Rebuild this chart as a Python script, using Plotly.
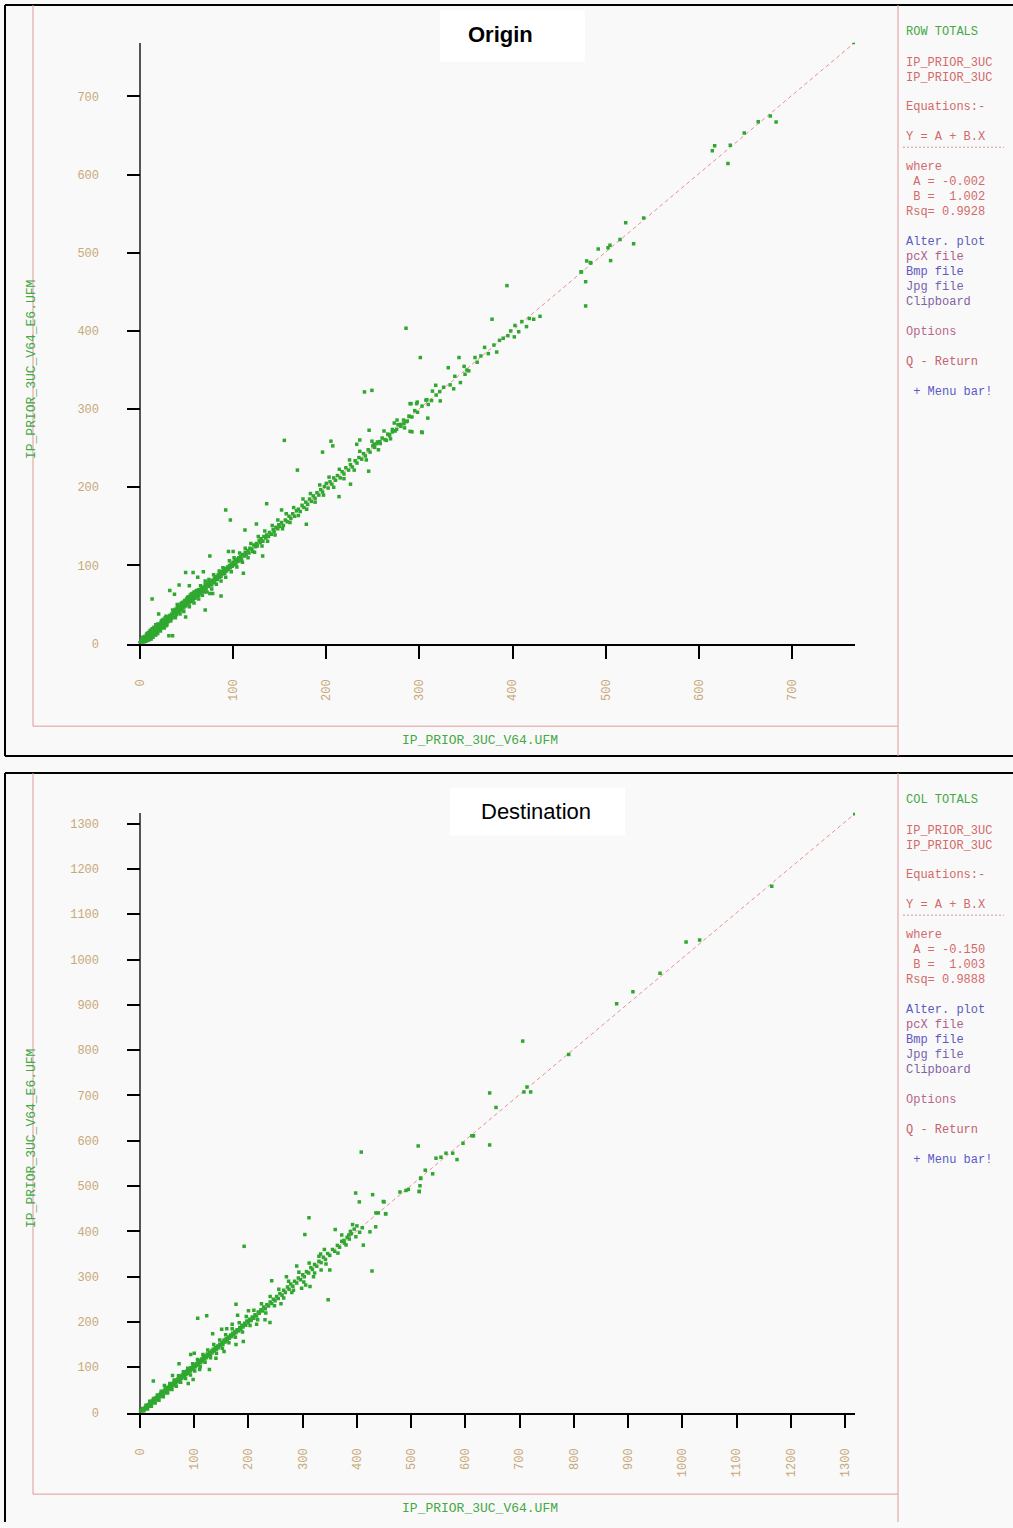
import plotly.graph_objects as go

W, H = 1013, 1528

# ---------------- DATA ----------------
origin_ticks = [0, 100, 200, 300, 400, 500, 600, 700]
dest_ticks = [0, 100, 200, 300, 400, 500, 600, 700, 800, 900, 1000, 1100, 1200, 1300]

origin_fit = {"A": -0.002, "B": 1.002, "xmax": 768}
dest_fit = {"A": -0.150, "B": 1.003, "xmax": 1318}

origin_low = [(0,1),(1,0),(1,3),(2,2),(2,6),(3,1),(3,4),(4,7),(4,2),(5,5),(5,9),(6,3),(6,8),(7,6),(7,12),
              (8,4),(8,9),(9,7),(9,14),(10,10),(10,5),(11,12),(11,17),(12,9),(12,14),(13,11),(13,19),(14,13),
              (14,8),(15,16),(15,21),(16,14),(16,11),(17,18),(17,24),(18,16),(18,20),(19,22),(19,13),(20,19),
              (21,23),(21,17),(22,26),(22,21),(23,20),(23,29),(24,25),(24,22),(25,27),(25,31),(26,24),(26,28),
              (27,33),(27,26),(28,29),(28,23),(29,31),(30,34),(30,28)]
origin_mid = [(31,33),(32,36),(32,30),(33,35),(34,38),(34,32),(35,37),(36,40),(36,34),(37,42),(38,39),(38,44),
              (39,37),(40,43),(40,46),(41,40),(42,45),(42,48),(43,42),(44,47),(44,51),(45,44),(46,49),(46,53),
              (47,46),(48,51),(48,55),(49,48),(50,53),(50,57),(51,50),(52,55),(52,60),(53,52),(54,57),(54,62),
              (55,54),(56,59),(56,64),(57,56),(58,61),(58,66),(59,58),(60,63),(60,67),(61,60),(62,65),(63,62),
              (63,69),(64,66),(65,64),(66,70),(66,67),(67,72),(68,69),(69,66),(70,73),(70,76),(71,70),(72,75),
              (73,78),(74,73),(75,77),(76,80),(77,75),(78,81),(79,78),(80,84),(80,80),(81,83),(82,86),(83,82),
              (84,88),(85,85),(86,90),(87,86),(88,92),(89,89),(90,94),(91,90),(92,96),(93,93),(94,98),(95,95),
              (96,100),(97,97),(98,102),(99,99),(100,104),(101,101),(102,106),(103,102),(104,108),(105,105),
              (106,110),(107,106),(108,111),(109,108),(110,114),(112,112),(113,117),(114,114),(116,119),
              (117,116),(118,122),(120,121),(121,118),(122,126),(124,124),(125,128),(126,125),(128,132),
              (129,129),(130,134),(132,131),(133,137),(135,135),(136,139),(138,137),(139,142),(141,140),
              (143,146),(144,143),(146,149),(148,147),(149,152),(150,150)]
origin_band = [(3,8),(5,2),(8,13),(10,15),(12,6),(14,19),(17,11),(19,25),(22,16),(24,30),(26,20),(28,35),
               (29,24),(33,29),(35,43),(38,33),(40,50),(43,38),(45,52),(47,41),(51,59),(53,47),(55,63),(58,52),
               (61,68),(63,57),(65,74),(67,62),(70,80),(72,66),(74,82),(77,70),(79,88),(82,76),(85,93),(87,80),
               (89,97),(92,85),(96,106),(98,92),(101,110),(104,98),(107,116),(110,104),(113,122),(116,110),
               (119,128),(123,117),(127,137),(131,125),(134,144),(137,131),(142,151),(145,139),(148,158),
               (153,147),(157,166),(161,155),(165,174),(170,164),(175,185),(179,172),(183,192),(188,181),
               (193,203),(197,190),(203,213),(208,200),(214,223),(219,211),(225,235),(230,222),(236,246),
               (243,235),(249,259),(256,248),(262,272),(269,262),(276,286),(284,276)]
origin_upper = [(152,155),(154,151),(156,158),(158,156),(160,163),(162,160),(164,166),(166,163),(168,170),
                (170,172),(172,169),(174,177),(176,174),(178,181),(180,178),(182,185),(184,182),(186,189),
                (188,186),(190,193),(192,190),(194,197),(196,194),(198,201),(200,205),(202,199),(204,207),
                (206,204),(208,212),(210,209),(212,215),(215,212),(217,220),(219,217),(221,225),(224,222),
                (226,229),(228,226),(231,234),(233,231),(235,238),(238,236),(240,243),(242,240),(245,248),
                (247,245),(250,253),(252,251),(255,258),(258,256),(260,263),(263,261),(266,268),(268,266),
                (271,274),(274,272),(277,280),(280,278),(283,286),(286,284),(289,291),(292,290),(295,298),
                (298,296),(318,318),(326,328),(333,331),(338,342),(362,360),(366,368),(380,382),(386,388),
                (395,394),(398,400),(410,412),(418,416)]
origin_scatter = [(31,10),(35,10),(20,38),(32,68),(37,63),(42,75),(53,74),(49,91),(57,91),(13,57),(49,34),
                  (75,64),(78,64),(87,61),(70,43),(75,112),(92,171),(97,158),(136,179),(111,90),(131.7,112),
                  (112.7,145.5),(125,153),(152,171),(100,118),(80,80),(68,92),(62,85),(95,118),
                  (155,260),(169,222),(205,259),(207,253),(196,245),(246,273),(290,307),(297,307),(308,312),
                  (292,271),(303,270),(178.6,152.7),(213.7,188),(226,204),(245.5,220.6),(241,322),(249,324),
                  (285.6,403.5),(301,366),(236,260.5),(232.7,255),(289,290.6),(287,284.7),(283.4,281.3),
                  (273,282.2),(280,280.5),(275.6,274.2),(271,270.8),(267.7,267.4),(264.5,260),(257.4,258.4),
                  (254,255.8),(251.2,255),(290,271.6),(302.4,270.8),(291,307),(297.7,309),(302.8,303.9),
                  (309.5,306),(309,288.5),(322.4,310.5),(313,311),(307,311.5),(317.5,330.5),(314,323),
                  (321.8,322.4),(344,334),(336.8,326),(331,353),(348,354.7),(351,350),(349,344.6),(353,349),
                  (359.7,366),(342.5,366),(374,371),(383,373),(390,390.7),(370,379),(378,415),(394,458),
                  (401.9,392.4),(402.6,407),(406.6,399),(415,405.6),(422.7,415),(429.5,418.7)]
origin_high = [(474,475.6),(478.5,463),(478.5,432),(479.6,489.6),(484,487),(492,505),(502.5,506.6),
               (504.6,509.5),(505.3,490),(515.4,517),(521.5,538.4),(530,511.7),(540.8,544.4),(614.5,630.4),
               (617,636.8),(631.3,614.3),(633.8,637.7),(648.8,653.3),(663.8,667.8),(676.7,675),(683,667.3),
               (766.6,769),(473.5,475.6),(483.5,487.5)]

dest_low = [(1,1),(2,3),(3,2),(4,5),(5,4),(6,7),(7,5),(8,9),(9,8),(10,12),(11,10),(12,13),(13,11),(14,16),
            (15,14),(16,18),(17,15),(18,20),(19,17),(20,22),(21,19),(22,25),(23,22),(24,27),(25,24),(26,29),
            (27,25),(28,31),(29,28),(30,33),(32,30),(33,36),(34,33),(36,39),(37,35),(38,42),(40,38),(41,44),
            (42,41),(44,47),(45,43),(46,50),(48,46),(49,52),(50,49),(52,55),(53,51),(54,58),(56,54),(57,61),
            (58,57),(60,63),(61,60),(62,66),(64,62),(65,68),(66,65),(68,72),(69,68),(70,74),(72,71),(73,77),
            (74,73),(76,80),(77,76),(78,83),(80,79),(81,85),(82,82),(84,88),(85,84),(86,91),(88,87),(89,93),
            (90,90),(92,96),(93,92),(94,99),(96,95),(98,102),(99,98),(100,105),(102,101),(104,108),(105,104),
            (107,111),(108,107),(110,115),(112,110),(114,118),(115,114),(117,122),(119,118),(121,125)]
dest_band = [(4,9),(7,2),(11,16),(14,8),(18,25),(21,14),(25,31),(28,21),(32,39),(35,27),(39,47),(43,35),
             (47,56),(51,43),(55,64),(59,51),(63,72),(67,58),(71,81),(75,67),(80,90),(84,75),(88,98),(93,83),
             (97,108),(101,92),(106,117),(111,101),(116,128),(120,111),(125,138),(130,121),(136,150),(141,131),
             (147,160),(152,142),(158,172),(164,154),(170,185),(176,166),(183,198),(189,178),(196,212),
             (203,192),(210,226),(217,205),(224,240),(232,220),(240,256),(248,236),(256,272),(265,253),
             (274,290),(283,270),(293,310),(302,288),(312,330),(322,308),(333,350),(343,328)]
dest_mid = [(122,121),(124,129),(126,125),(128,132),(130,128),(132,136),(133,132),(135,140),(137,136),
            (139,143),(141,140),(143,147),(145,143),(147,151),(149,148),(151,155),(153,151),(155,160),
            (157,156),(159,163),(161,160),(163,167),(165,164),(167,171),(169,168),(171,175),(173,172),
            (175,179),(177,176),(179,183),(182,180),(184,188),(186,184),(188,193),(190,189),(193,197),
            (195,193),(197,202),(200,198),(202,206),(205,203),(207,211),(210,208),(212,216),(215,213),
            (218,222),(220,219),(223,227),(226,224),(228,233),(231,229),(234,238),(237,235),(240,244),
            (243,241),(246,250),(249,247),(252,256),(255,252),(258,263),(262,259),(265,270),(268,265),
            (272,277),(275,272),(278,284),(282,279),(285,290),(289,286),(292,297),(296,293),(300,304),
            (303,300),(307,311),(311,308),(315,320),(318,316),(322,327),(326,323),(330,334),(334,331),
            (338,343),(342,338),(346,351),(350,347),(355,360),(359,356),(364,369),(368,365),(372,378),
            (377,374),(382,387),(386,383)]
dest_scatter = [(24.6,69.6),(89,64),(98,73),(128,95),(72,107.6),(93.5,128),(100,131),(106.4,208),(123,213.7),
                (134,174),(150.6,184),(177,150),(190.5,157),(177,239),(239.7,199),(230.5,205),(192,367),
                (60,82),(45,60),(110,95),(140,120),(160,185),(170,195),(155,135),(200,225),(215,195),(180,215),
                (242.8,291),(289,323.5),(304,393),(311.6,430),(350,314.7),(334,314.7),(313.5,278),(298,274.5),
                (305.5,281.7),(347,249),(360,404),(411.8,369.6),(427.8,312.5),(397.7,484.6),(429,481),
                (404.4,465),(434.6,410),(424,399),(453,438.5),(439.5,440.7),(435,440.7),(450,465),(390,395),
                (395,405),(400,412),(405,398),(410,408),(392,415),(388,400),(398,388),(380,370),(385,392),
                (270,300),(260,240),(280,265),(320,300),(340,360),(330,345),(365,352),(372,392),(376,380),
                (408,575)]
dest_high = [(448.7,466),(453,439),(479.4,486.8),(490.5,490.3),(494.8,492.5),(515,488.1),(516.3,500.7),
             (517.6,516.7),(539.7,527),(513,588.5),(526,535),(517.5,517.6),(515,488),(545.8,561.5),
             (555,563.7),(564.3,572.5),(576.6,572.5),(584.6,558.5),(595.6,594.4),(612,611),(615,611),
             (644.8,590.7),(656.5,673.5),(644.8,705.5),(708,707.7),(713.6,718.7),(720.4,707.7),(705.7,820),
             (790.5,790.5),(879,902.5),(909,929),(959,970),(1007,1039),(1032,1043),(1165,1162),(1318,1322)]

# ---------------- helpers ----------------
def px(x):
    return x / W

def py(y):
    return 1 - y / H

GREEN = "#30a830"
TAN = "#c8a878"
RED = "#d26a6a"
TXT_GREEN = "#44a844"
MONO = "Liberation Mono"

fig = go.Figure()

def add_points(groups, xa, ya):
    xs, ys = [], []
    for g in groups:
        for a, b in g:
            xs.append(a)
            ys.append(b)
    fig.add_trace(go.Scatter(x=xs, y=ys, mode="markers", xaxis=xa, yaxis=ya,
                             marker=dict(symbol="square", size=3.5, color=GREEN, line=dict(width=0)),
                             hoverinfo="skip", showlegend=False))

def add_fit(fit, xa, ya):
    xs = [0, fit["xmax"]]
    ys = [fit["A"] + fit["B"] * v for v in xs]
    fig.add_trace(go.Scatter(x=xs, y=ys, mode="lines", xaxis=xa, yaxis=ya,
                             line=dict(color="#e89090", width=1, dash="4px,3px"),
                             hoverinfo="skip", showlegend=False))

add_fit(origin_fit, "x", "y")
add_points([origin_low, origin_mid, origin_band, origin_upper, origin_scatter, origin_high], "x", "y")
add_fit(dest_fit, "x2", "y2")
add_points([dest_low, dest_band, dest_mid, dest_scatter, dest_high], "x2", "y2")

def xaxis_cfg(rng, ticks, anchor):
    return dict(domain=[px(127), px(855)], range=rng, anchor=anchor,
                showline=True, linecolor="black", linewidth=2,
                ticks="outside", ticklen=13, tickwidth=2, tickcolor="black",
                tickvals=ticks, ticktext=[str(t) for t in ticks], tickangle=-90,
                tickfont=dict(family=MONO, size=12, color=TAN), ticklabelstandoff=16,
                showgrid=False, zeroline=True, zerolinecolor="#555555", zerolinewidth=1.5,
                fixedrange=True)

def yaxis_cfg(dom, rng, ticks, anchor):
    return dict(domain=dom, range=rng, anchor=anchor,
                showline=False, ticks="inside", ticklen=13, tickwidth=2, tickcolor="black",
                tickvals=ticks, ticktext=[str(t) for t in ticks],
                tickfont=dict(family=MONO, size=12, color=TAN), ticklabelstandoff=27,
                showgrid=False, zeroline=False, fixedrange=True)

annotations = []
shapes = []

def text(x, y, s, color, size=12, family=MONO, angle=0, xanchor="left", bold=False):
    if bold:
        s = "<b>" + s + "</b>"
    annotations.append(dict(x=px(x), y=py(y), xref="paper", yref="paper", text=s, showarrow=False,
                            xanchor=xanchor, yanchor="middle", textangle=angle,
                            font=dict(family=family, size=size, color=color)))

def line(x0, y0, x1, y1, color, width=1, dash="solid"):
    shapes.append(dict(type="line", xref="paper", yref="paper", x0=px(x0), y0=py(y0), x1=px(x1), y1=py(y1),
                       line=dict(color=color, width=width, dash=dash)))

def panel(off, title, bold, title_box, header, A, B, rsq, ytitle_y):
    top = 5 + off
    pink_bottom = 730 + off
    bottom = 760 if off == 0 else 1530
    line(5, top, 1015, top, "black", 2)
    line(5, top, 5, bottom, "black", 2)
    if off == 0:
        line(5, 760, 1015, 760, "black", 2)
    line(33, top, 33, pink_bottom, "#e09a9a", 1)
    line(33, pink_bottom, 898, pink_bottom, "#e09a9a", 1)
    line(898, top, 898, bottom, "#e09a9a", 1)
    bx0, by0, bx1, by1, tx, ty = title_box
    shapes.append(dict(type="rect", xref="paper", yref="paper", x0=px(bx0), y0=py(by0), x1=px(bx1), y1=py(by1),
                       fillcolor="white", line=dict(width=0), layer="above"))
    text(tx, ty, title, "black", size=22, family="Liberation Sans", xanchor="center", bold=bold)
    text(480, 744 + off, "IP_PRIOR_3UC_V64.UFM", TXT_GREEN, size=13, xanchor="center")
    text(31, ytitle_y, "IP_PRIOR_3UC_V64_E6.UFM", TXT_GREEN, size=13, angle=-90, xanchor="center")
    o = off + 1
    text(904, 31 + o, header, TXT_GREEN)
    text(904, 62 + o, "IP_PRIOR_3UC", RED)
    text(904, 77 + o, "IP_PRIOR_3UC", RED)
    text(904, 107 + o, "Equations:-", RED)
    text(904, 137 + o, "Y = A + B.X", RED)
    line(903, 147 + o, 1004, 147 + o, "#e09090", 1, "2px,2px")
    text(904, 167 + o, "where", RED)
    text(904, 182 + o, " A = " + A, RED)
    text(904, 197 + o, " B =  " + B, RED)
    text(904, 212 + o, "Rsq= " + rsq, RED)
    text(904, 242 + o, "Alter. plot", "#5a5ac0")
    text(904, 257 + o, "pcX file", "#b0608c")
    text(904, 272 + o, "Bmp file", "#6258bc")
    text(904, 288 + o, "Jpg file", "#7a62aa")
    text(904, 303 + o, "Clipboard", "#8462a2")
    text(904, 333 + o, "Options", "#b8688a")
    text(904, 363 + o, "Q - Return", "#c66070")
    text(904, 393 + o, " + Menu bar!", "#5a5ac8")

panel(0, "Origin", True, (440, 10, 585, 62, 500, 35), "ROW TOTALS",
      "{:.3f}".format(origin_fit["A"]), "{:.3f}".format(origin_fit["B"]), "0.9928", 372)
panel(772, "Destination", False, (450, 792, 625, 840, 536, 816), "COL TOTALS",
      "{:.3f}".format(dest_fit["A"]), "{:.3f}".format(dest_fit["B"]), "0.9888", 1145)

fig.update_layout(
    width=W, height=H, margin=dict(l=0, r=0, t=0, b=0),
    paper_bgcolor="#f9f9f9", plot_bgcolor="rgba(0,0,0,0)",
    xaxis=xaxis_cfg([-13.96, 767.7], origin_ticks, "y"),
    yaxis=yaxis_cfg([py(647), py(43)], [0, 768.7], origin_ticks, "x"),
    xaxis2=xaxis_cfg([-23.97, 1318.5], dest_ticks, "y2"),
    yaxis2=yaxis_cfg([py(1420), py(817)], [0, 1324.1], dest_ticks, "x2"),
    annotations=annotations, shapes=shapes,
)

post = ("document.documentElement.style.margin='0';document.documentElement.style.padding='0';"
        "document.documentElement.style.overflow='hidden';document.documentElement.style.height='1528px';"
        "document.body.style.margin='0';document.body.style.padding='0';document.body.style.overflow='hidden';"
        "document.body.style.height='1528px';document.body.style.background='#f9f9f9';"
        "var d=document.getElementById('{plot_id}');d.style.display='block';"
        "if(d.parentElement){d.parentElement.style.height='1528px';d.parentElement.style.overflow='hidden';"
        "d.parentElement.style.display='block';}")

fig.write_html("out.html", config={"displayModeBar": False}, post_script=post)
